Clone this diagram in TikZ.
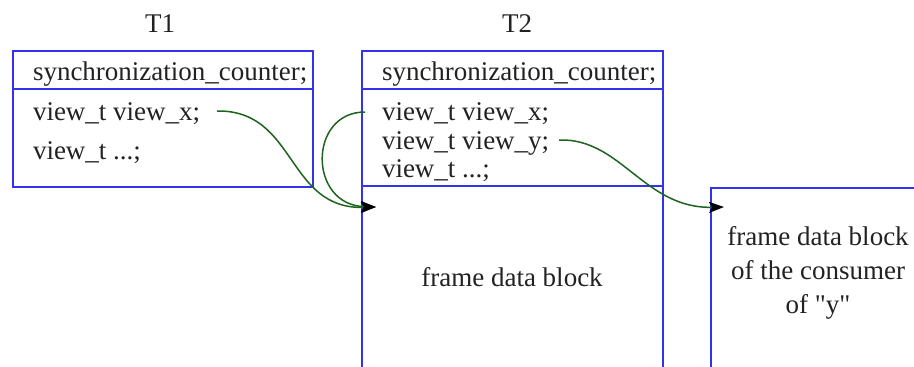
\documentclass[tikz,border=0pt]{standalone}
\usepackage{fontspec}
\setmainfont{Liberation Serif}[Ligatures=TeXOff]
\usetikzlibrary{arrows.meta,calc}
\definecolor{boxblue}{RGB}{51,51,238}
\definecolor{linkgreen}{RGB}{30,100,30}
\definecolor{txt}{RGB}{34,34,34}
\begin{document}
\begin{tikzpicture}[x=1pt,y=-1pt,
  font=\fontsize{27}{34}\selectfont,
  every node/.style={text=txt, inner sep=0pt, outer sep=0pt},
  panel/.style={draw=boxblue, line width=2pt, rectangle, anchor=north west},
  divider/.style={draw=boxblue, line width=2pt},
  field/.style={anchor=base west},
  link/.style={draw=linkgreen, line width=1.5pt, -{Stealth[length=15pt,width=11pt,inset=3pt,black]}}]
\useasboundingbox (0,0) rectangle (914,367);
\clip (0,0) rectangle (914,367);
% T1
\node[anchor=base] (lt1) at (160,32) {T1};
\node[panel, minimum width=300pt, minimum height=136pt] (t1) at (13,51) {};
\draw[divider] ($(t1.north west)+(0,38)$) -- ($(t1.north east)+(0,38)$);
\node[field] (a1) at (33,80) {synchronization\_counter;};
\node[field] (a2) at (33,120) {view\_t view\_x;};
\node[field] (a3) at (33,159) {view\_t ...;};
% T2
\node[anchor=base] (lt2) at (517,32) {T2};
\node[panel, minimum width=301pt, minimum height=400pt] (t2) at (362,51) {};
\draw[divider] ($(t2.north west)+(0,38)$) -- ($(t2.north east)+(0,38)$);
\draw[divider] ($(t2.north west)+(0,135)$) -- ($(t2.north east)+(0,135)$);
\node[field] (b1) at (382,80) {synchronization\_counter;};
\node[field] (b2) at (382,120) {view\_t view\_x;};
\node[field] (b3) at (382,149) {view\_t view\_y;};
\node[field] (b4) at (382,177) {view\_t ...;};
\node (fd) at (512,277) {frame data block};
% consumer frame
\node[panel, minimum width=300pt, minimum height=300pt] (fr) at (711,188) {};
\node[align=center] (fc) at (818,273) {frame data block\\of the consumer\\of "y"};
% links
\coordinate (s1) at ($(a2.base east)+(17,-9)$);
\coordinate (e1) at ($(t2.north west)+(14,156)$);
\coordinate (s2) at ($(b2.base west)+(-17,-8)$);
\coordinate (s3) at ($(b3.base east)+(10,-9)$);
\coordinate (e3) at ($(fr.north west)+(13,19)$);
\draw[link] (s1) .. controls +(80,-1) and +(-90,3) .. (e1);
\draw[link] (s2) .. controls +(-57,0) and +(-68,-2) .. (e1);
\draw[link] (s3) .. controls +(62,-2) and +(-80,2) .. (e3);
\end{tikzpicture}
\end{document}
